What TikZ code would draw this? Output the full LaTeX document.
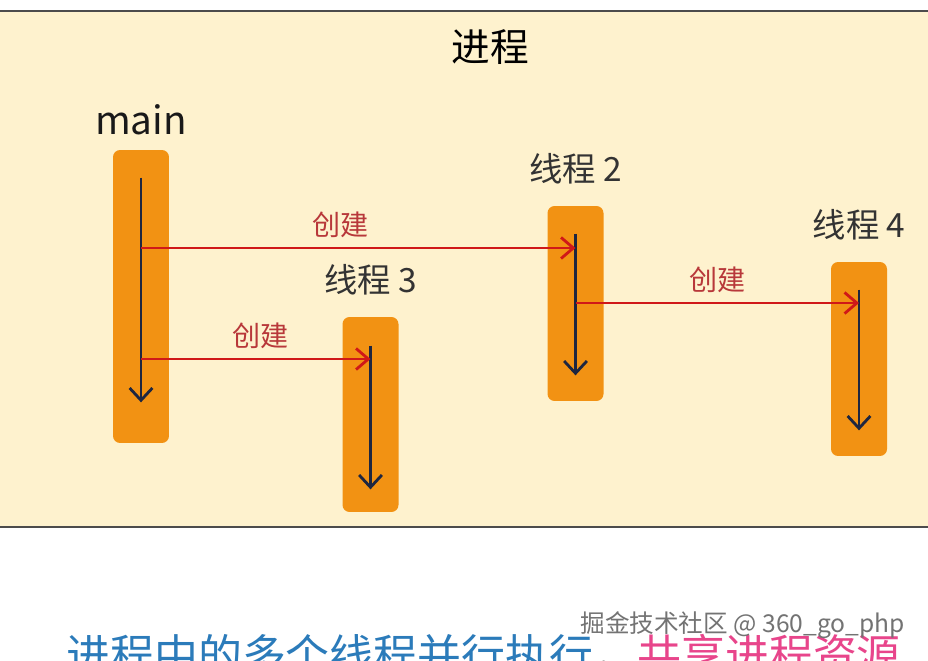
\documentclass[tikz,border=0pt]{standalone}
\usepackage{fontspec}
\setmainfont{Noto Sans CJK SC}
\usetikzlibrary{arrows.meta,positioning}
\definecolor{thdbeige}{HTML}{FEF2CE}
\definecolor{thdorange}{HTML}{F29213}
\definecolor{thdnavy}{HTML}{1E2640}
\definecolor{thdred}{HTML}{D01818}
\definecolor{thdlabel}{HTML}{B8383A}
\definecolor{thdblue}{HTML}{2B7BBA}
\definecolor{thdpink}{HTML}{E8458B}

\begin{document}
\begin{tikzpicture}[
    x=0.02cm, y=-0.02cm,
    every node/.style={align=center},
    bar/.style={fill=thdorange, rounded corners=4pt, minimum width=1.12cm, inner sep=0pt},
    threadname/.style={font=\fontsize{19}{22}\selectfont, text=black!80},
    life/.style={-{Straight Barb[length=7pt, width=13pt]}, line width=1.6pt, thdnavy},
    spawn/.style={-{Straight Barb[length=7pt, width=12pt]}, line width=1.6pt, thdred},
    spawnlabel/.style={font=\fontsize{16}{18}\selectfont, text=thdlabel, above=1.5pt}
]
    \useasboundingbox (0,0) rectangle (928,660);
    \fill[white] (0,0) rectangle (928,660);
    % process panel
    \fill[thdbeige] (-5,11) rectangle (933,527);
    \draw[line width=1.2pt, black!70] (-5,11) -- (933,11);
    \draw[line width=1.2pt, black!70] (-5,527) -- (933,527);
    \node[font=\fontsize{22}{26}\selectfont, text=black] (title) at (490,47) {进程};

    % threads
    \node[bar, minimum height=5.86cm] (main) at (141,296.5) {};
    \node[bar, minimum height=3.9cm] (t3) at (370.5,414.5) {};
    \node[bar, minimum height=3.9cm] (t2) at (575.5,303.5) {};
    \node[bar, minimum height=3.88cm] (t4) at (859,359) {};

    \node[threadname, font=\fontsize{22}{26}\selectfont, text=black!90, above=0.16cm of main] (mainname) {main};
    \node[threadname, above=0.3cm of t3] (t3name) {线程 3};
    \node[threadname, above=0.3cm of t2] (t2name) {线程 2};
    \node[threadname, above=0.3cm of t4] (t4name) {线程 4};

    \draw[life] ([yshift=-0.56cm]main.north) -- ([yshift=0.82cm]main.south);
    \draw[life] ([yshift=-0.58cm]t3.north) -- ([yshift=0.46cm]t3.south);
    \draw[life] ([yshift=-0.56cm]t2.north) -- ([yshift=0.52cm]t2.south);
    \draw[life] ([yshift=-0.56cm]t4.north) -- ([yshift=0.52cm]t4.south);

    % creation
    \path (main.center) ++(0,-48.5) coordinate (from2);
    \path (main.center) ++(0,62.5) coordinate (from3);
    \path (t2.center) ++(0,-0.5) coordinate (from4);
    \draw[spawn] (from2) -- (from2 -| t2.center) node[spawnlabel, pos=0.46] {创建};
    \draw[spawn] (from3) -- (from3 -| t3.center) node[spawnlabel, pos=0.52] {创建};
    \draw[spawn] (from4) -- (from4 -| t4.center) node[spawnlabel, pos=0.5] {创建};

    % caption and watermark
    \node[anchor=base west, font=\fontsize{25}{28}\selectfont, inner sep=0pt] (caption) at (66,671)
        {\textcolor{thdblue}{进程中的多个线程并行执行}，\textcolor{thdpink}{共享进程资源}};
    \node[anchor=east, font=\fontsize{14}{16}\selectfont, text=black!55, inner sep=0pt] (mark) at (905,625)
        {掘金技术社区 @ 360\_go\_php};
\end{tikzpicture}
\end{document}
